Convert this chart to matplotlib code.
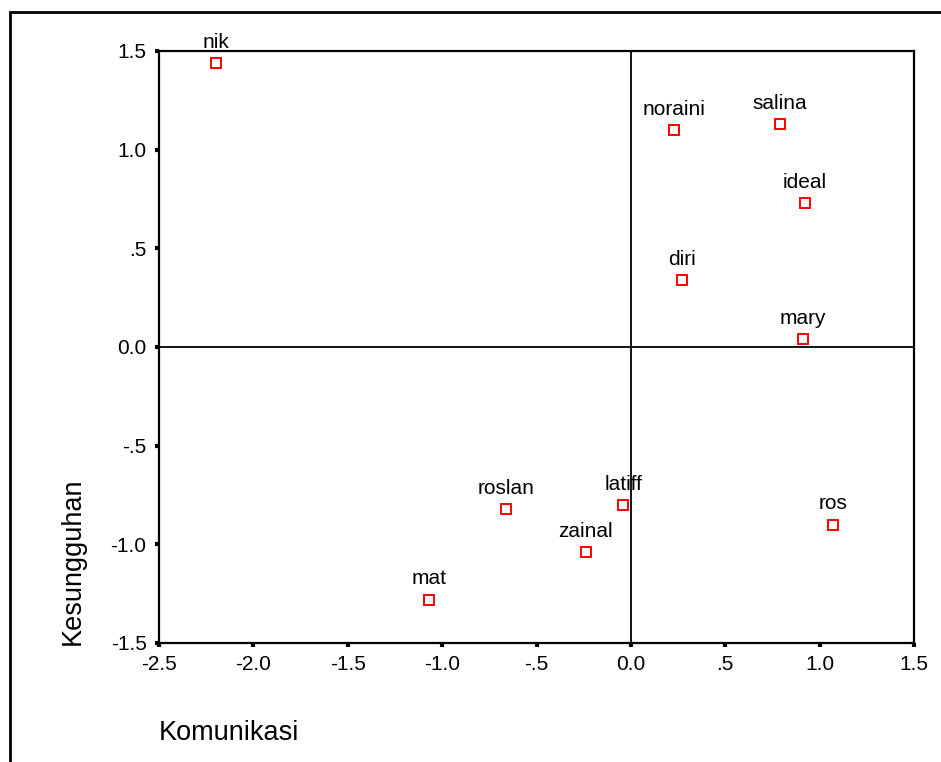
import matplotlib
matplotlib.use('Agg')
import matplotlib.pyplot as plt
from matplotlib.patches import Rectangle

plt.rcParams['font.family'] = ['Liberation Sans', 'DejaVu Sans']

# 데이터
names = ['nik', 'noraini', 'salina', 'ideal', 'diri', 'mary', 'ros', 'latiff', 'roslan', 'zainal', 'mat']
komunikasi = [-2.20, 0.23, 0.79, 0.92, 0.27, 0.91, 1.07, -0.04, -0.66, -0.24, -1.07]
kesungguhan = [1.44, 1.10, 1.13, 0.73, 0.34, 0.04, -0.90, -0.80, -0.82, -1.04, -1.28]

xticks = [-2.5, -2.0, -1.5, -1.0, -0.5, 0.0, 0.5, 1.0, 1.5]
xticklabels = ['-2.5', '-2.0', '-1.5', '-1.0', '-.5', '0.0', '.5', '1.0', '1.5']
yticks = [-1.5, -1.0, -0.5, 0.0, 0.5, 1.0, 1.5]
yticklabels = ['-1.5', '-1.0', '-.5', '0.0', '.5', '1.0', '1.5']

W, H = 941, 762
fig = plt.figure(figsize=(W / 100, H / 100), dpi=100)
ax = fig.add_axes([159 / W, 1 - 643 / H, (914 - 159) / W, (643 - 51) / H])

# 기준선
ax.axhline(0, color='black', lw=1.3, zorder=1)
ax.axvline(0, color='black', lw=1.3, zorder=1)

ax.plot(komunikasi, kesungguhan, 's', ms=7, mfc='white', mec='red', mew=1.4, ls='none', zorder=3)
for n, x, y in zip(names, komunikasi, kesungguhan):
    ax.annotate(n, (x, y), xytext=(0, 8), textcoords='offset points',
                ha='center', va='bottom', fontsize=15)

ax.set_xlim(-2.5, 1.5)
ax.set_ylim(-1.5, 1.5)
ax.set_xticks(xticks)
ax.set_xticklabels(xticklabels)
ax.set_yticks(yticks)
ax.set_yticklabels(yticklabels)
ax.tick_params(direction='out', length=3, width=3, labelsize=15, pad=6)
for s in ax.spines.values():
    s.set_linewidth(1.6)

# 축 제목
fig.text(159 / W, 1 - 733 / H, 'Komunikasi', fontsize=19.5, ha='left', va='center')
fig.text(73 / W, 1 - 645 / H, 'Kesungguhan', fontsize=19.5, rotation=90, ha='center', va='bottom')

# 바깥 테두리
fig.add_artist(Rectangle((10 / W, -0.1), 1.2, 1.1 - 12 / H, transform=fig.transFigure,
                         fill=False, ec='black', lw=2))

fig.savefig('out.png', dpi=100)
